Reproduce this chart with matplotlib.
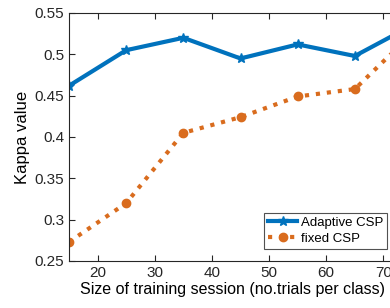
import matplotlib
matplotlib.use("Agg")
import matplotlib.pyplot as plt

plt.rcParams['font.family'] = ['Liberation Sans', 'DejaVu Sans']

sizes = [15, 25, 35, 45, 55, 65, 75]
adaptive = [0.462, 0.505, 0.520, 0.495, 0.512, 0.498, 0.535]
fixed = [0.273, 0.320, 0.405, 0.424, 0.449, 0.458, 0.525]
yticks = [0.25, 0.3, 0.35, 0.4, 0.45, 0.5, 0.55]
ytick_labels = ['0.25', '0.3', '0.35', '0.4', '0.45', '0.5', '0.55']
xticks = [20, 30, 40, 50, 60, 70]

fig = plt.figure(figsize=(3.9, 3.08), dpi=100)
ax = fig.add_axes([69/390, 47/308, (412-69)/390, 248/308])

ax.plot(sizes, adaptive, color='#0072BD', lw=3, marker='*', ms=7,
        label='Adaptive CSP')
ax.plot(sizes, fixed, color='#D96C1E', lw=3, ls=':', marker='o', ms=6,
        label='fixed CSP')

ax.set_xlim(15, 75)
ax.set_ylim(0.25, 0.55)
ax.set_xticks(xticks)
ax.set_yticks(yticks)
ax.set_yticklabels(ytick_labels)
ax.tick_params(direction='in', top=True, right=True, labelsize=11,
               colors='#262626', length=4, width=0.8)
for s in ax.spines.values():
    s.set_color('#262626')
    s.set_linewidth(0.8)

ax.set_xlabel('Size of training session (no.trials per class)', fontsize=11.5, color='#000000')
ax.xaxis.set_label_coords((233-69)/343, -0.083)
ax.set_ylabel('Kappa value', fontsize=12, color='#000000', labelpad=3)

leg = ax.legend(loc='lower right', bbox_to_anchor=(387/390, 59/308),
                bbox_transform=fig.transFigure, fontsize=9.5, frameon=True,
                fancybox=False, edgecolor='#262626', handlelength=2.2,
                borderpad=0.3, labelspacing=0.3, handletextpad=0.25,
                borderaxespad=0)
leg.get_frame().set_linewidth(0.8)

fig.savefig('out.png', dpi=100)
